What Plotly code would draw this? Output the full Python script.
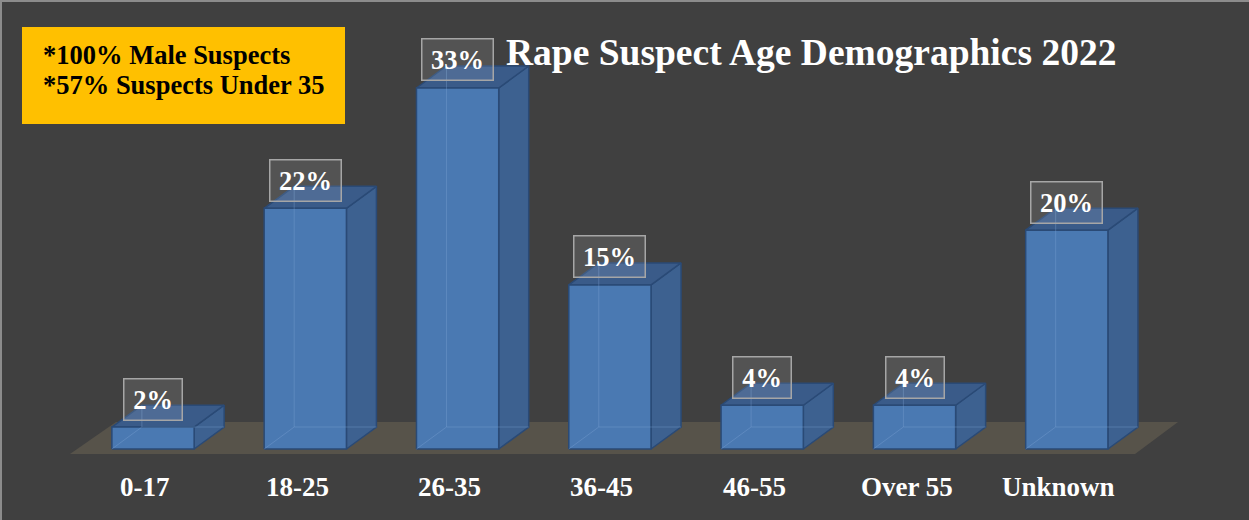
import plotly.graph_objects as go

categories = ["0-17", "18-25", "26-35", "36-45", "46-55", "Over 55", "Unknown"]
values = [2, 22, 33, 15, 4, 4, 20]
value_labels = ["2%", "22%", "33%", "15%", "4%", "4%", "20%"]
title_text = "Rape Suspect Age Demographics 2022"
note_lines = ["*100% Male Suspects", "*57% Suspects Under 35"]

W, H = 1249, 520
FONT = "Liberation Serif, Times New Roman, serif"
BG = "#404040"
FRONT = "#4A79B2"
SIDE = "#3D6190"
TOP = "#3A5B89"
EDGE = "#2A4A76"
HIDDEN = "rgba(130,165,215,0.35)"
FLOOR = "#57534A"

bw = 0.54      # bar width (category units)
ddx = 0.197    # depth offset x
ddy = 2.01     # depth offset y (value units)

fig = go.Figure()

n = len(categories)
# floor
fx = [-0.545, n - 1 + 0.448, n - 1 + 0.73, -0.243, -0.545]
fy = [-0.46, -0.46, 2.47, 2.47, -0.46]
fig.add_trace(go.Scatter(x=fx, y=fy, mode="lines", fill="toself", fillcolor=FLOOR,
                         line=dict(width=0, color=FLOOR), hoverinfo="skip"))

for i, v in enumerate(values):
    l, r = i - bw / 2, i + bw / 2
    # side face
    fig.add_trace(go.Scatter(
        x=[r, r + ddx, r + ddx, r, r], y=[0, ddy, v + ddy, v, 0],
        mode="lines", fill="toself", fillcolor=SIDE,
        line=dict(color=EDGE, width=1.5), hoverinfo="skip"))
    # top face
    fig.add_trace(go.Scatter(
        x=[l, l + ddx, r + ddx, r, l], y=[v, v + ddy, v + ddy, v, v],
        mode="lines", fill="toself", fillcolor=TOP,
        line=dict(color=EDGE, width=1.5), hoverinfo="skip"))
    # front face
    fig.add_trace(go.Scatter(
        x=[l, r, r, l, l], y=[0, 0, v, v, 0],
        mode="lines", fill="toself", fillcolor=FRONT,
        line=dict(color=EDGE, width=1.5), hoverinfo="skip"))
    # hidden back edges seen through
    fig.add_trace(go.Scatter(
        x=[l, l + ddx, r + ddx, None, l + ddx, l + ddx],
        y=[0, ddy, ddy, None, ddy, v + ddy],
        mode="lines", line=dict(color=HIDDEN, width=1), hoverinfo="skip"))

annotations = []
for i, (v, lab) in enumerate(zip(values, value_labels)):
    annotations.append(dict(
        x=i, y=v, xref="x", yref="y", yshift=28, text="<b>%s</b>" % lab,
        showarrow=False, font=dict(family=FONT, size=26.5, color="white"),
        bgcolor="rgba(255,255,255,0.10)", bordercolor="#A6A6A6", borderwidth=1.5,
        borderpad=3, width=13 * len(lab) + 25, height=34, align="center",
        xanchor="center", yanchor="middle"))
for i, c in enumerate(categories):
    annotations.append(dict(
        x=i, y=0, xref="x", yref="y", yshift=-38, xshift=-8, text="<b>%s</b>" % c,
        showarrow=False, font=dict(family=FONT, size=27, color="white"),
        xanchor="center", yanchor="middle"))

annotations.append(dict(
    x=811 / W, y=1 - 53 / H, xref="paper", yref="paper", text="<b>%s</b>" % title_text,
    showarrow=False, font=dict(family=FONT, size=37.5, color="white"),
    xanchor="center", yanchor="middle"))

for k, line in enumerate(note_lines):
    annotations.append(dict(
        x=41 / W, y=1 - (55 + 30 * k) / H, xref="paper", yref="paper",
        text="<b>%s</b>" % line, showarrow=False,
        font=dict(family=FONT, size=26.5, color="black"),
        xanchor="left", yanchor="middle", align="left"))

shapes = [
    dict(type="rect", xref="paper", yref="paper", x0=22 / W, x1=345 / W,
         y0=1 - 124 / H, y1=1 - 27 / H, fillcolor="#FFC000", line=dict(width=0),
         layer="below"),
    dict(type="line", xref="paper", yref="paper", x0=0, x1=1, y0=1 - 1 / H, y1=1 - 1 / H,
         line=dict(color="#8C8C8C", width=2)),
    dict(type="line", xref="paper", yref="paper", x0=1 / W, x1=1 / W, y0=0, y1=1,
         line=dict(color="#8C8C8C", width=2)),
]

px_per_cat = 152.3
px_per_val = 10.94
x0 = -153 / px_per_cat
y0 = -(H - 449) / px_per_val

fig.update_layout(
    width=W, height=H, margin=dict(l=0, r=0, t=0, b=0),
    paper_bgcolor=BG, plot_bgcolor=BG, showlegend=False,
    xaxis=dict(range=[x0, x0 + W / px_per_cat], visible=False, fixedrange=True),
    yaxis=dict(range=[y0, y0 + H / px_per_val], visible=False, fixedrange=True),
    annotations=annotations, shapes=shapes, hovermode=False,
)

fig.write_html(
    "out.html",
    config={"displayModeBar": False},
    post_script="document.body.style.margin='0';document.body.style.overflow='hidden';",
)
